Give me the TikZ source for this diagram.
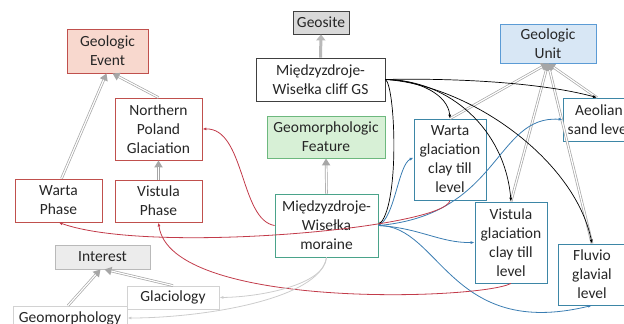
\documentclass[tikz,border=0pt]{standalone}
\usepackage{fontspec}
\setmainfont{Carlito}
\usetikzlibrary{arrows.meta}
\definecolor{evtred}{HTML}{C0504D}
\definecolor{evtfill}{HTML}{F8D8CE}
\definecolor{featgreen}{HTML}{6DB87E}
\definecolor{featfill}{HTML}{D7F0D6}
\definecolor{morgreen}{HTML}{4AA38A}
\definecolor{unitblue}{HTML}{5B9BD5}
\definecolor{unitfill}{HTML}{D8E7F5}
\definecolor{levelblue}{HTML}{3D86A6}
\definecolor{linkblue}{HTML}{3A7DB2}
\definecolor{linkred}{HTML}{C23B4A}
\tikzset{
  box/.style={draw, rectangle, align=center, inner sep=1pt, line width=0.8pt,
    text=black!85, font=\fontsize{15.5}{19}\selectfont},
  evtbox/.style={box, draw=evtred, fill=evtfill},
  phasebox/.style={box, draw=evtred, fill=white},
  sitebox/.style={box, draw=black!75, fill=white},
  featbox/.style={box, draw=featgreen, fill=featfill},
  morbox/.style={box, draw=morgreen, fill=white},
  unitbox/.style={box, draw=unitblue, fill=unitfill},
  levelbox/.style={box, draw=levelblue, fill=white},
  intbox/.style={box, draw=gray!55, fill=gray!15},
  topicbox/.style={box, draw=gray!35, fill=white},
  subof/.style={draw=gray!70, line width=2.6pt, -{Triangle[length=7pt,width=8pt]},
    postaction={draw=white, line width=1.2pt, shorten >=7pt, -}},
  partof/.style={draw=gray!55, line width=3pt, -{Triangle[length=6pt,width=9pt]}},
  blkl/.style={black, line width=0.7pt, -{Latex[length=4pt,width=3pt]}},
  redl/.style={linkred, line width=0.8pt, -{Latex[length=4pt,width=3pt]}},
  bluel/.style={linkblue, line width=0.8pt, -{Latex[length=4pt,width=3pt]}},
  greyl/.style={gray!40, line width=0.8pt, -{Latex[length=4pt,width=3pt]}}
}
\begin{document}
\begin{tikzpicture}[x=1pt, y=-1pt]
\useasboundingbox (0,0) rectangle (624,324);

\node[evtbox, minimum width=81pt, minimum height=44pt] (evt) at (107.5,51) {Geologic\\Event};
\node[phasebox, minimum width=87pt, minimum height=62pt] (npg) at (158.5,129) {Northern\\Poland\\Glaciation};
\node[phasebox, minimum width=87pt, minimum height=43pt] (wph) at (58.5,200.5) {Warta\\Phase};
\node[phasebox, minimum width=87pt, minimum height=42pt] (vph) at (158.5,201) {Vistula\\Phase};

\node[sitebox, fill=gray!30, minimum width=56pt, minimum height=23pt] (geosite) at (321,22.5) {Geosite};
\node[sitebox, minimum width=129pt, minimum height=43pt] (cliff) at (320.5,79.5) {Międzyzdroje-\\Wisełka cliff GS};
\node[featbox, minimum width=118pt, minimum height=42pt] (feat) at (326,137) {Geomorphologic\\Feature};
\node[morbox, minimum width=103pt, minimum height=63pt] (mor) at (326.5,225.5) {Międzyzdroje-\\Wisełka\\moraine};

\node[unitbox, minimum width=96pt, minimum height=39pt] (unit) at (548,43.5) {Geologic\\Unit};
\node[levelbox, minimum width=72pt, minimum height=43pt] (aeol) at (599,119.5) {Aeolian\\sand level};
\node[levelbox, minimum width=72pt, minimum height=81pt] (wgl) at (450,159.5) {Warta\\glaciation\\clay till\\level};
\node[levelbox, minimum width=72pt, minimum height=81pt] (vgl) at (511,242.5) {Vistula\\glaciation\\clay till\\level};
\node[levelbox, minimum width=68pt, minimum height=61pt] (fluv) at (592,274.5) {Fluvio\\glavial\\level};

\node[intbox, minimum width=95pt, minimum height=24pt] (interest) at (102.5,257) {Interest};
\node[topicbox, minimum width=92pt, minimum height=23pt] (glac) at (173,297.5) {Glaciology};
\node[topicbox, minimum width=114pt, minimum height=24pt] (geomorph) at (70,318) {Geomorphology};

\draw[subof] (npg.north) -- ([xshift=5pt]evt.south);
\draw[subof] ([xshift=3pt]wph.north) -- ([xshift=-1pt]evt.south);
\draw[subof] (vph.north) -- (npg.south);
\draw[subof] (mor.north) -- (feat.south);
\draw[partof] (cliff.north) -- (geosite.south);
\draw[subof] (wgl.north) -- (unit.south);
\draw[subof] ([xshift=-2pt]aeol.north) -- (unit.south);
\draw[subof] (vgl.north) -- (unit.south);
\draw[subof] (fluv.north) -- (unit.south);
\draw[subof] (glac.north) -- ([xshift=2pt]interest.south);
\draw[subof] ([xshift=-2pt]geomorph.north) -- ([xshift=-2pt]interest.south);

\draw[blkl] (cliff.east) .. controls (450,78) and (540,82) .. ([xshift=-2pt]aeol.north);
\draw[blkl] (cliff.east) .. controls (420,80) and (448,95) .. (wgl.north);
\draw[blkl] (cliff.east) .. controls (450,80) and (505,130) .. (vgl.north);
\draw[blkl] (cliff.east) .. controls (470,85) and (575,160) .. (fluv.north);
\draw[blkl] (cliff.east) .. controls (395,85) and (400,200) .. (mor.east);

\draw[bluel] (mor.east) .. controls (395,218) and (398,165) .. ([yshift=2pt]wgl.west);
\draw[bluel] (mor.east) .. controls (500,215) and (495,115) .. (aeol.west);
\draw[bluel] (mor.east) .. controls (420,228) and (440,243) .. (vgl.west);
\draw[bluel] (mor.east) .. controls (440,225) and (450,340) .. (fluv.south);

\draw[redl] (mor.west) .. controls (240,220) and (245,128) .. (npg.east);
\draw[redl] (wgl.south) .. controls (445,228) and (150,255) .. (wph.south);
\draw[redl] (vgl.south) .. controls (480,300) and (170,310) .. (vph.south);

\draw[greyl] (mor.south) .. controls (325,285) and (260,297) .. (glac.east);
\draw[greyl] (mor.south) .. controls (320,300) and (200,318) .. (geomorph.east);
\end{tikzpicture}
\end{document}
